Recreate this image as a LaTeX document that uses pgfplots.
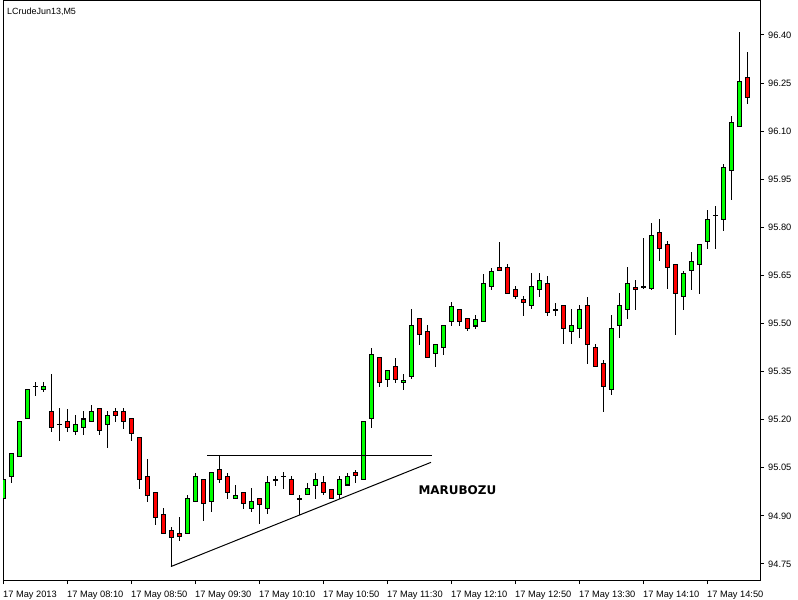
\documentclass[border=0pt]{standalone}
\usepackage{fontspec}
\setmainfont{Liberation Sans}
\newfontfamily\dejavu{DejaVu Sans}
\usepackage{pgfplots}
\usepackage{pgfplotstable}
\pgfplotsset{compat=1.18}

% M5 candles, 07:30 .. 15:15
\pgfplotstableread{
i O H L C
0 94.955 95.015 94.934 95.015
1 95.022 95.095 95.004 95.095
2 95.085 95.196 95.085 95.196
3 95.204 95.295 95.204 95.295
4 95.305 95.318 95.275 95.305
5 95.295 95.318 95.286 95.305
6 95.227 95.345 95.163 95.176
7 95.187 95.238 95.135 95.187
8 95.196 95.236 95.163 95.176
9 95.164 95.215 95.152 95.187
10 95.176 95.227 95.152 95.204
11 95.195 95.246 95.195 95.227
12 95.236 95.236 95.152 95.164
13 95.186 95.227 95.113 95.215
14 95.227 95.238 95.194 95.214
15 95.227 95.238 95.173 95.194
16 95.204 95.204 95.135 95.156
17 95.145 95.145 94.985 95.014
18 95.024 95.078 94.944 94.964
19 94.974 94.974 94.873 94.896
20 94.905 94.925 94.846 94.846
21 94.855 94.865 94.742 94.833
22 94.846 94.897 94.823 94.833
23 94.846 94.965 94.846 94.955
24 94.946 95.036 94.946 95.024
25 95.014 95.014 94.885 94.937
26 94.946 95.036 94.913 95.036
27 95.045 95.087 95.005 95.015
28 95.025 95.036 94.954 94.974
29 94.955 94.996 94.955 94.965
30 94.974 94.974 94.924 94.937
31 94.924 94.986 94.913 94.946
32 94.955 94.955 94.874 94.937
33 94.924 95.025 94.905 95.005
34 95.014 95.025 94.994 95.014
35 95.025 95.036 94.985 95.025
36 95.014 95.025 94.965 94.965
37 94.955 94.965 94.902 94.955
38 94.965 95.005 94.965 94.986
39 94.996 95.036 94.954 95.014
40 95.005 95.025 94.965 94.974
41 94.986 94.986 94.955 94.955
42 94.965 95.025 94.954 95.014
43 94.996 95.036 94.996 95.025
44 95.036 95.045 95.005 95.025
45 95.014 95.196 95.014 95.196
46 95.204 95.426 95.176 95.404
47 95.395 95.395 95.303 95.317
48 95.326 95.354 95.303 95.354
49 95.367 95.395 95.317 95.326
50 95.317 95.345 95.295 95.326
51 95.335 95.545 95.326 95.495
52 95.516 95.516 95.435 95.466
53 95.476 95.495 95.395 95.395
54 95.404 95.435 95.365 95.435
55 95.426 95.495 95.404 95.495
56 95.507 95.568 95.495 95.557
57 95.545 95.545 95.493 95.507
58 95.516 95.516 95.476 95.485
59 95.493 95.527 95.485 95.516
60 95.508 95.657 95.508 95.626
61 95.617 95.675 95.607 95.666
62 95.675 95.757 95.666 95.666
63 95.675 95.685 95.594 95.594
64 95.607 95.617 95.576 95.585
65 95.576 95.585 95.524 95.566
66 95.557 95.658 95.544 95.616
67 95.607 95.658 95.585 95.635
68 95.626 95.648 95.524 95.535
69 95.544 95.566 95.524 95.544
70 95.557 95.557 95.435 95.485
71 95.476 95.544 95.435 95.495
72 95.485 95.557 95.456 95.544
73 95.557 95.585 95.375 95.435
74 95.426 95.435 95.367 95.367
75 95.376 95.385 95.225 95.304
76 95.295 95.526 95.276 95.485
77 95.495 95.594 95.456 95.557
78 95.544 95.675 95.515 95.626
79 95.616 95.635 95.544 95.607
80 95.616 95.766 95.607 95.616
81 95.607 95.817 95.607 95.775
82 95.787 95.826 95.696 95.735
83 95.747 95.757 95.607 95.675
84 95.685 95.685 95.465 95.594
85 95.585 95.666 95.544 95.657
86 95.666 95.725 95.607 95.697
87 95.685 95.747 95.594 95.747
88 95.757 95.856 95.733 95.825
89 95.838 95.866 95.733 95.838
90 95.825 95.997 95.788 95.987
91 95.978 96.146 95.886 96.128
92 96.115 96.410 96.115 96.256
93 96.268 96.347 96.187 96.206
}\candles

\begin{document}
\begin{tikzpicture}
\begin{axis}[
    at={(0,0)}, anchor=south west,
    scale only axis, width=757bp, height=579bp,
    xmin=0, xmax=94.625,
    ymin=94.700, ymax=96.506,
    axis line style={black, line width=1bp},
    xtick={0,8,...,88},
    xticklabels={17 May 2013, 17 May 08:10, 17 May 08:50, 17 May 09:30, 17 May 10:10, 17 May 10:50,
                 17 May 11:30, 17 May 12:10, 17 May 12:50, 17 May 13:30, 17 May 14:10, 17 May 14:50},
    ytick={94.75,94.90,95.05,95.20,95.35,95.50,95.65,95.80,95.95,96.10,96.25,96.40},
    xtick pos=bottom, ytick pos=right, yticklabel pos=right,
    tick align=outside, major tick length=4bp,
    tick style={black, line width=1bp},
    ticklabel style={font=\fontsize{9.3}{11}\selectfont, /pgf/number format/assume math mode=true},
    x tick label style={anchor=north west, inner sep=0pt, yshift=-7bp},
    y tick label style={anchor=west, inner sep=0pt, xshift=4bp,
        /pgf/number format/fixed, /pgf/number format/fixed zerofill, /pgf/number format/precision=2},
]
% wicks
\addplot[draw=none, mark=none, error bars/.cd, y dir=both, y explicit, error mark=none,
    error bar style={draw=black, line width=1bp}]
    table[x=i, y expr={(\thisrow{H}+\thisrow{L})/2}, y error expr={(\thisrow{H}-\thisrow{L})/2}] {\candles};
% body outline
\addplot[draw=none, mark=none, error bars/.cd, y dir=both, y explicit, error mark=none,
    error bar style={draw=black, line width=5bp}]
    table[x=i, y expr={(\thisrow{O}+\thisrow{C})/2}, y error expr={abs(\thisrow{C}-\thisrow{O})/2+0.0008}] {\candles};
% bull bodies
\addplot[draw=none, mark=none, restrict expr to domain={\thisrow{C}-\thisrow{O}}{0.004:5},
    error bars/.cd, y dir=both, y explicit, error mark=none,
    error bar style={draw=green, line width=3bp}]
    table[x=i, y expr={(\thisrow{O}+\thisrow{C})/2}, y error expr={(\thisrow{C}-\thisrow{O})/2-0.0024}] {\candles};
% bear bodies
\addplot[draw=none, mark=none, restrict expr to domain={\thisrow{O}-\thisrow{C}}{0.004:5},
    error bars/.cd, y dir=both, y explicit, error mark=none,
    error bar style={draw=red, line width=3bp}]
    table[x=i, y expr={(\thisrow{O}+\thisrow{C})/2}, y error expr={(\thisrow{O}-\thisrow{C})/2-0.0024}] {\candles};
% triangle
\addplot[black, line width=1bp] coordinates {(25.5,95.087) (53.6,95.087)};
\addplot[black, line width=1bp] coordinates {(21,94.742) (53.5,95.067)};
\node[font=\dejavu\bfseries\fontsize{12}{14}\selectfont] at (axis cs:56.8,94.981) {MARUBOZU};
\node[anchor=north west, inner sep=0pt, font=\fontsize{9}{11}\selectfont]
    at (rel axis cs:0,1) [xshift=4bp, yshift=-7bp] {LCrudeJun13,M5};
\end{axis}
\pgfresetboundingbox
\useasboundingbox (-3bp,-20bp) rectangle (795bp,580bp);
\end{tikzpicture}
\end{document}
